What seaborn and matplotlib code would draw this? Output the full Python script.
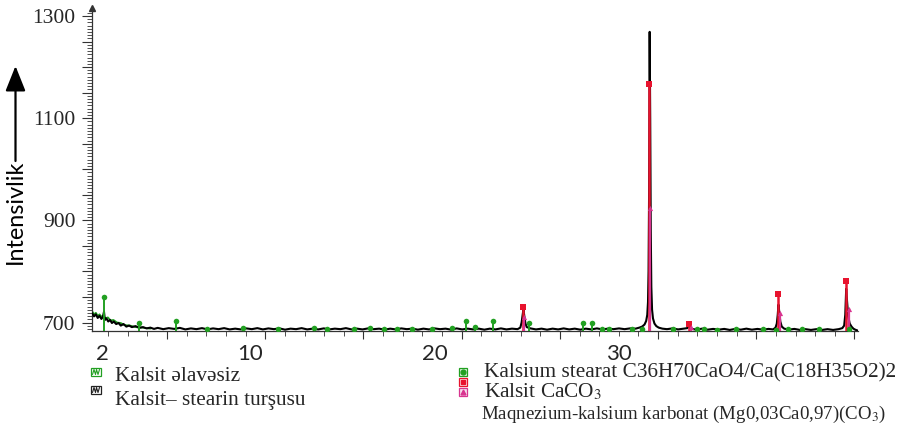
import matplotlib
matplotlib.use("Agg")
import matplotlib.pyplot as plt
from matplotlib.patches import Rectangle
from matplotlib.ticker import FixedLocator, FuncFormatter, NullFormatter
import pandas as pd
import seaborn as sns

# ---------------- data ----------------
# measured pattern "Kalsit– stearin turşusu" (black trace)
two_theta = [
    1.45, 1.55, 1.65, 1.75, 1.85, 1.95, 2.03, 2.09, 2.14, 2.22, 2.32, 2.42, 2.52, 2.62,
    2.75, 2.88, 3.0, 3.15, 3.3, 3.45, 3.6, 3.8, 4.0, 4.2, 4.4, 4.6, 4.8, 5.0,
    5.3, 5.6, 5.9, 6.2, 6.5, 6.8, 7.1, 7.4, 7.7, 8.0, 8.3, 8.6, 8.9, 9.2, 9.5, 9.8,
    10.1, 10.4, 10.7, 11.0, 11.3, 11.6, 11.9, 12.2, 12.5, 12.8, 13.1, 13.4, 13.7, 14.0,
    14.3, 14.6, 14.9, 15.2, 15.5, 15.8, 16.1, 16.4, 16.7, 17.0, 17.3, 17.6, 17.9, 18.2,
    18.5, 18.8, 19.1, 19.4, 19.7, 20.0, 20.3, 20.6, 20.9, 21.2, 21.5, 21.8, 22.1, 22.4,
    22.7, 23.0, 23.3, 23.6, 23.9, 24.2, 24.5, 24.65, 24.72, 24.78, 24.82, 24.87, 24.93,
    25.0, 25.2, 25.5, 25.8, 26.1, 26.4, 26.7, 27.0, 27.3, 27.6, 27.9, 28.2, 28.5, 28.8,
    29.1, 29.4, 29.7, 30.0, 30.3, 30.6, 30.9, 31.1, 31.25, 31.38, 31.47, 31.53, 31.57,
    31.60, 31.63, 31.66, 31.69, 31.72, 31.75, 31.79, 31.84, 31.92, 32.02, 32.15, 32.35,
    32.6, 32.9, 33.2, 33.5, 33.7, 33.77, 33.83, 33.95, 34.2, 34.5, 34.8, 35.1, 35.4,
    35.7, 36.0, 36.3, 36.6, 36.9, 37.2, 37.5, 37.8, 38.1, 38.35, 38.48, 38.55, 38.6,
    38.64, 38.69, 38.74, 38.82, 38.95, 39.2, 39.5, 39.8, 40.1, 40.4, 40.7, 41.0, 41.3,
    41.6, 41.9, 42.1, 42.2, 42.26, 42.31, 42.36, 42.42, 42.5, 42.6, 42.7, 42.8, 42.95,
]
counts = [
    718, 712, 716, 709, 713, 707, 711, 721, 705, 708, 702, 705, 699, 702,
    697, 699, 694, 697, 692, 694, 691, 693, 689.5, 691, 688.5, 690, 687.5, 689.5,
    687, 689, 687.5, 689.5, 686.5, 688.5, 687, 689, 686.5, 688.5, 687, 689, 686.5, 688, 686.5, 688.5,
    687, 689, 686.5, 688.5, 687, 688.5, 686, 688, 687, 689, 686.5, 688, 686.5, 688.5,
    686.5, 688, 687, 689, 686.5, 688, 686.5, 688.5, 687, 688, 686, 688, 686.5, 688.5,
    687, 688, 686, 688, 686.5, 688.5, 687, 688, 686, 688.5, 686.5, 688, 686.5, 688,
    686, 688, 686.5, 688.5, 686.5, 688, 687, 690, 700, 716, 726, 712, 698,
    691, 688.5, 686.5, 688, 686, 688, 686.5, 688.5, 686.5, 688, 686, 688, 686.5, 688.5,
    686.5, 688, 687, 688.5, 687, 688.5, 688, 690, 692, 696, 703, 715, 740,
    800, 960, 1269, 1100, 880, 770, 725, 708, 698, 693, 690, 688,
    687, 688.5, 686.5, 688, 689, 695, 691, 687.5, 686, 688, 686, 687.5, 686,
    687.5, 685.5, 687.5, 686, 688, 686, 687.5, 686, 687.5, 686.5, 690, 698, 715,
    735, 718, 702, 692, 688, 686, 687.5, 685.5, 687, 685.5, 687, 685.5, 687,
    685.5, 687, 689, 694, 715, 766, 740, 712, 698, 692, 688, 686, 684,
]

# "Kalsit əlavəsiz" (green trace, visible only at low angles)
two_theta_plain = [1.45, 1.55, 1.65, 1.75, 1.85, 1.95, 2.05, 2.15, 2.3, 2.45, 2.6, 2.8,
                   3.0, 3.2, 3.5, 3.8, 4.2, 4.6]
counts_plain = [722, 716, 719, 713, 716, 711, 714, 708, 710, 704, 705, 700,
                699, 695, 694, 691, 690, 688]

# reference sticks
stearate_pos = [2.09, 3.98, 5.99, 7.67, 9.62, 11.52, 13.47, 14.17, 15.64, 16.50, 17.26,
                17.97, 18.78, 19.86, 20.95, 21.71, 22.20, 23.17, 25.14, 28.03, 28.54,
                29.06, 29.46, 30.69, 31.23, 32.95, 34.21, 34.61, 35.31, 36.34, 37.80,
                38.51, 39.16, 39.92, 40.84, 42.47]
stearate_int = [749, 700, 702, 688, 690, 688, 690, 688, 688, 690, 688,
                688, 688, 688, 690, 702, 692, 702, 700, 700, 700,
                688, 688, 688, 688, 688, 688, 687, 686, 687, 687,
                686, 687, 687, 687, 688]
calcite_pos = [24.81, 31.65, 33.77, 38.63, 42.30]
calcite_int = [731, 1167, 697, 756, 782]
mgcalcite_pos = [24.86, 31.69, 33.90, 38.73, 42.47]
mgcalcite_int = [710, 925, 691, 718, 727]

y_tick_values = [700, 900, 1100, 1300]
x_tick_values = [2, 10, 20, 30]
x_tick_labels = ["2", "10", "20", "30"]
y_label = "Intensivlik"
legend_left = ["Kalsit əlavəsiz", "Kalsit– stearin turşusu"]
legend_right = ["Kalsium stearat C36H70CaO4/Ca(C18H35O2)2",
                "Kalsit CaCO$_3$",
                "Maqnezium-kalsium karbonat (Mg0,03Ca0,97)(CO$_3$)"]

# ---------------- style ----------------
sns.set_theme(style="white")
plt.rcParams["font.family"] = ["Liberation Serif", "DejaVu Serif"]
plt.rcParams["mathtext.fontset"] = "stix"

GREEN = "#22a022"
RED = "#e8132e"
MAGENTA = "#d8348f"

W, H = 908, 425
fig = plt.figure(figsize=(W / 100, H / 100), dpi=100)
ax = fig.add_axes([92 / W, 1 - 331 / H, (858 - 92) / W, (331 - 8) / H])
ax.set_facecolor("white")

YMIN, YMAX = 683.4, 1315.7
ax.set_xlim(1.44, 42.95)
ax.set_ylim(YMIN, YMAX)

df = pd.DataFrame({"tt": two_theta, "I": counts})
dfp = pd.DataFrame({"tt": two_theta_plain, "I": counts_plain})
sns.lineplot(data=dfp, x="tt", y="I", ax=ax, color=GREEN, lw=1.3, estimator=None, zorder=2)
sns.lineplot(data=df, x="tt", y="I", ax=ax, color="black", lw=1.5, estimator=None, zorder=3)

# stick patterns
ax.vlines(stearate_pos, YMIN, stearate_int, color=GREEN, lw=1.4, zorder=4)
ax.vlines(calcite_pos, YMIN, calcite_int, color=RED, lw=1.8, zorder=5)
ax.vlines(mgcalcite_pos, YMIN, mgcalcite_int, color=MAGENTA, lw=1.6, zorder=5)
sns.scatterplot(x=stearate_pos, y=stearate_int, ax=ax, color=GREEN, marker="o", s=16,
                linewidth=0, zorder=6)
sns.scatterplot(x=calcite_pos, y=calcite_int, ax=ax, color=RED, marker="s", s=20,
                linewidth=0, zorder=6)
sns.scatterplot(x=mgcalcite_pos, y=mgcalcite_int, ax=ax, color=MAGENTA, marker="^", s=14,
                linewidth=0, zorder=6)

# spines
for s in ["top", "right"]:
    ax.spines[s].set_visible(False)
for s in ["left", "bottom"]:
    ax.spines[s].set_color("#333333")
    ax.spines[s].set_linewidth(0.9)

# y ticks
ax.yaxis.set_major_locator(FixedLocator(list(range(700, 1301, 50))))
ax.yaxis.set_minor_locator(FixedLocator([687.5 + 6.25 * k for k in range(100)]))
ax.yaxis.set_major_formatter(FuncFormatter(lambda v, p: f"{int(v)}" if int(v) in y_tick_values else ""))
ax.tick_params(axis="y", which="major", direction="out", length=7, width=0.8, color="#333333",
               labelsize=15.5, pad=5, labelfontfamily="Liberation Serif", left=True)
ax.tick_params(axis="y", which="minor", direction="out", length=3.5, width=0.6, color="#333333", left=True)

# x ticks (instrument tick marks) and labels
x_major_marks = [5.50, 10.82, 16.15, 21.47, 26.79, 32.12, 37.44, 42.76]
x_minor_marks = [2.31 + 1.0646 * k for k in range(38)]
ax.xaxis.set_major_locator(FixedLocator(x_major_marks))
ax.xaxis.set_minor_locator(FixedLocator(x_minor_marks))
ax.xaxis.set_major_formatter(NullFormatter())
ax.tick_params(axis="x", which="major", direction="out", length=6, width=0.8, color="#333333", bottom=True)
ax.tick_params(axis="x", which="minor", direction="out", length=3.5, width=0.6, color="#333333", bottom=True)
ax.set_xlabel("")
ax.set_ylabel("")

sec = ax.secondary_xaxis("bottom")
sec.set_xticks(x_tick_values, labels=x_tick_labels)
sec.tick_params(length=0, pad=9, labelsize=16, labelfontfamily="Lato")
sec.spines["bottom"].set_visible(False)

# top arrow of the y axis
ax.plot([1.44], [YMAX], marker="^", color="#333333", ms=4, clip_on=False, zorder=7)

# ---------------- overlay in pixel coordinates (labels, legend) ----------------
lax = fig.add_axes([0, 0, 1, 1])
lax.set_xlim(0, W)
lax.set_ylim(H, 0)
lax.axis("off")
lax.patch.set_alpha(0)

lax.text(15, 212, y_label, rotation=90, ha="center", va="center", fontsize=16.8,
         family="Lato", color="black")
lax.annotate("", xy=(15.5, 66), xytext=(15.5, 161),
             arrowprops=dict(arrowstyle="-|>,head_length=0.55,head_width=0.22",
                             lw=1.6, color="black", mutation_scale=28, shrinkA=0, shrinkB=0))


def scan_icon(x, y, col):
    lax.add_patch(Rectangle((x - 5, y - 4), 10, 8, facecolor="white", edgecolor=col, lw=0.9))
    lax.plot([x - 3.5, x - 2, x - 0.5, x + 0.5, x + 2, x + 3.5],
             [y + 2.5, y - 2.5, y + 2.5, y - 2.5, y + 2.5, y - 2.5], color=col, lw=0.8)


scan_icon(96, 372, GREEN)
scan_icon(96, 390, "#222222")
lax.text(115, 381, legend_left[0], fontsize=15.3, family="Liberation Serif", va="baseline")
lax.text(115, 405, legend_left[1], fontsize=15.3, family="Liberation Serif", va="baseline")


def stick_icon(x, y, col, marker, fill):
    lax.add_patch(Rectangle((x - 4, y - 4), 8, 8, facecolor=fill, edgecolor=col, lw=0.9))
    lax.plot([x], [y], marker=marker, color=col, ms=3.5, mec=col)


stick_icon(463, 372, GREEN, "o", "#e6f5e6")
stick_icon(463, 382, RED, "s", "#fbe3e6")
stick_icon(463, 392, MAGENTA, "^", "#f7e1ee")
lax.text(484, 377, legend_right[0], fontsize=15.3, family="Liberation Serif", va="baseline")
lax.text(484, 397, legend_right[1], fontsize=15.3, family="Liberation Serif", va="baseline")
lax.text(481, 419, legend_right[2], fontsize=13.6, family="Liberation Serif", va="baseline")

fig.savefig("out.png", dpi=100, facecolor="white")
